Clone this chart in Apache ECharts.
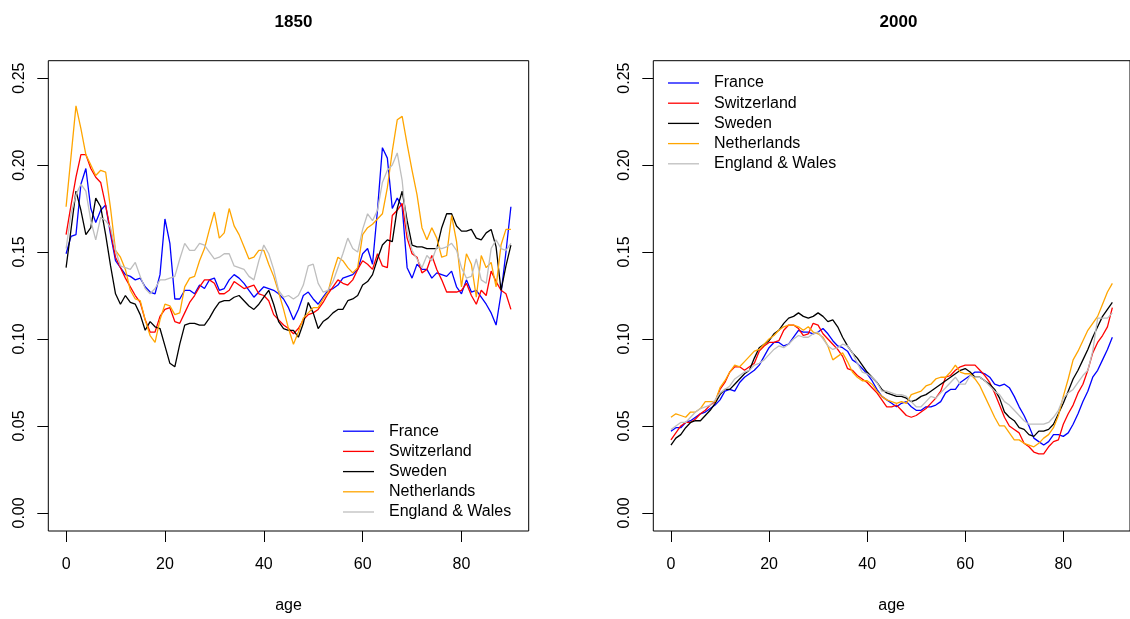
<!DOCTYPE html>
<html>
<head>
<meta charset="utf-8">
<script src="https://cdn.jsdelivr.net/npm/echarts@6/dist/echarts.min.js"></script>
<style>html,body{margin:0;padding:0;background:#fff}#c{width:1130px;height:619px}</style>
</head>
<body>
<div id="c"></div>
<script>
var countries = ['France', 'Switzerland', 'Sweden', 'Netherlands', 'England & Wales'];
var colors = ['#0000FF', '#FF0000', '#000000', '#FFA500', '#BEBEBE'];
var panelTitles = ['1850', '2000'];
var xTicks = [0, 20, 40, 60, 80];
var yTicks = [0, 0.05, 0.10, 0.15, 0.20, 0.25];
var ages = [];
for (var a = 0; a <= 90; a++) ages.push(a);

var france1850 = [0.149,0.159,0.160,0.189,0.198,0.175,0.167,0.174,0.177,0.160,0.145,0.141,0.137,0.136,0.134,0.135,0.130,0.127,0.126,0.137,0.169,0.155,0.123,0.123,0.128,0.128,0.126,0.131,0.129,0.134,0.135,0.128,0.129,0.134,0.137,0.135,0.132,0.128,0.124,0.127,0.130,0.129,0.128,0.126,0.123,0.118,0.111,0.117,0.125,0.127,0.123,0.120,0.124,0.128,0.129,0.131,0.135,0.136,0.137,0.140,0.149,0.152,0.143,0.174,0.210,0.204,0.175,0.181,0.176,0.141,0.135,0.143,0.140,0.140,0.135,0.138,0.137,0.136,0.139,0.130,0.126,0.134,0.127,0.128,0.124,0.120,0.115,0.108,0.126,0.150,0.176];
var switzerland1850 = [0.160,0.177,0.193,0.206,0.206,0.198,0.193,0.190,0.177,0.162,0.147,0.141,0.135,0.130,0.125,0.121,0.111,0.104,0.104,0.113,0.117,0.118,0.110,0.109,0.115,0.121,0.125,0.130,0.134,0.134,0.132,0.126,0.126,0.128,0.133,0.131,0.129,0.130,0.131,0.126,0.125,0.122,0.114,0.111,0.108,0.106,0.103,0.106,0.111,0.114,0.115,0.117,0.121,0.126,0.130,0.134,0.132,0.131,0.134,0.140,0.145,0.143,0.140,0.149,0.142,0.141,0.171,0.174,0.178,0.158,0.149,0.147,0.138,0.140,0.148,0.140,0.134,0.127,0.127,0.127,0.128,0.132,0.125,0.120,0.128,0.125,0.139,0.133,0.128,0.126,0.117];
var sweden1850 = [0.141,0.163,0.185,0.174,0.160,0.164,0.181,0.176,0.160,0.142,0.126,0.120,0.125,0.121,0.120,0.114,0.105,0.110,0.107,0.106,0.096,0.086,0.084,0.097,0.108,0.109,0.109,0.108,0.108,0.112,0.117,0.121,0.122,0.122,0.124,0.125,0.122,0.119,0.117,0.120,0.124,0.128,0.120,0.110,0.106,0.105,0.105,0.101,0.109,0.121,0.115,0.106,0.110,0.112,0.115,0.117,0.117,0.122,0.123,0.125,0.131,0.133,0.137,0.146,0.154,0.157,0.156,0.175,0.185,0.168,0.154,0.153,0.153,0.152,0.152,0.152,0.164,0.172,0.172,0.165,0.162,0.162,0.163,0.158,0.157,0.161,0.163,0.153,0.128,0.142,0.154];
var netherlands1850 = [0.176,0.205,0.234,0.221,0.206,0.200,0.194,0.197,0.196,0.175,0.151,0.147,0.140,0.128,0.123,0.122,0.111,0.102,0.098,0.111,0.120,0.119,0.114,0.115,0.130,0.135,0.136,0.145,0.152,0.163,0.173,0.158,0.161,0.175,0.165,0.160,0.153,0.146,0.147,0.151,0.151,0.143,0.136,0.127,0.117,0.106,0.097,0.104,0.112,0.115,0.118,0.118,0.123,0.127,0.138,0.147,0.145,0.141,0.138,0.141,0.160,0.164,0.166,0.169,0.172,0.187,0.208,0.226,0.228,0.212,0.197,0.183,0.164,0.157,0.164,0.158,0.147,0.148,0.171,0.156,0.130,0.149,0.143,0.124,0.148,0.141,0.144,0.130,0.154,0.163,0.163];
var england1850 = [0.152,0.172,0.183,0.189,0.185,0.168,0.157,0.170,0.168,0.164,0.151,0.142,0.141,0.140,0.144,0.136,0.129,0.126,0.129,0.134,0.134,0.135,0.136,0.146,0.155,0.151,0.151,0.155,0.154,0.150,0.146,0.147,0.149,0.149,0.142,0.141,0.140,0.136,0.134,0.145,0.154,0.149,0.140,0.128,0.124,0.125,0.123,0.125,0.131,0.142,0.143,0.132,0.127,0.128,0.133,0.141,0.149,0.158,0.152,0.150,0.163,0.172,0.168,0.174,0.190,0.197,0.200,0.207,0.191,0.162,0.151,0.146,0.141,0.148,0.145,0.153,0.152,0.153,0.155,0.151,0.141,0.135,0.136,0.146,0.134,0.132,0.152,0.157,0.152,0.151,0.155];

var france2000 = [0.047,0.049,0.049,0.052,0.053,0.055,0.057,0.058,0.060,0.062,0.065,0.070,0.071,0.070,0.075,0.078,0.080,0.082,0.085,0.090,0.095,0.098,0.098,0.096,0.097,0.101,0.105,0.104,0.104,0.103,0.104,0.106,0.103,0.099,0.096,0.095,0.093,0.088,0.086,0.083,0.080,0.076,0.071,0.067,0.065,0.063,0.061,0.063,0.064,0.061,0.059,0.059,0.061,0.061,0.062,0.064,0.069,0.071,0.071,0.075,0.077,0.079,0.081,0.081,0.080,0.078,0.074,0.073,0.074,0.072,0.067,0.061,0.056,0.050,0.043,0.041,0.039,0.041,0.045,0.045,0.044,0.046,0.051,0.057,0.064,0.070,0.078,0.082,0.088,0.094,0.101];
var switzerland2000 = [0.042,0.046,0.050,0.052,0.052,0.054,0.057,0.059,0.062,0.064,0.071,0.075,0.081,0.084,0.084,0.082,0.084,0.086,0.093,0.096,0.098,0.098,0.099,0.105,0.108,0.108,0.106,0.102,0.103,0.109,0.108,0.103,0.100,0.097,0.094,0.090,0.083,0.082,0.079,0.077,0.075,0.072,0.069,0.065,0.061,0.061,0.062,0.059,0.056,0.055,0.056,0.058,0.060,0.063,0.066,0.070,0.078,0.079,0.082,0.084,0.085,0.085,0.085,0.082,0.079,0.075,0.069,0.062,0.055,0.050,0.048,0.046,0.040,0.038,0.035,0.034,0.034,0.038,0.041,0.042,0.051,0.057,0.062,0.069,0.074,0.082,0.092,0.098,0.102,0.107,0.118];
var sweden2000 = [0.039,0.043,0.045,0.049,0.052,0.053,0.053,0.056,0.059,0.063,0.068,0.071,0.071,0.074,0.077,0.080,0.082,0.089,0.095,0.097,0.099,0.103,0.105,0.109,0.112,0.113,0.115,0.113,0.112,0.113,0.115,0.113,0.110,0.111,0.107,0.101,0.096,0.092,0.089,0.085,0.081,0.078,0.075,0.071,0.069,0.068,0.067,0.067,0.066,0.064,0.065,0.067,0.068,0.070,0.072,0.074,0.076,0.078,0.080,0.082,0.083,0.081,0.078,0.078,0.076,0.074,0.071,0.066,0.058,0.055,0.053,0.049,0.048,0.045,0.044,0.047,0.047,0.048,0.051,0.057,0.063,0.070,0.077,0.082,0.088,0.094,0.101,0.107,0.113,0.117,0.121];
var netherlands2000 = [0.055,0.057,0.056,0.055,0.058,0.058,0.060,0.064,0.064,0.064,0.072,0.076,0.081,0.085,0.084,0.087,0.090,0.093,0.094,0.097,0.100,0.102,0.105,0.107,0.108,0.108,0.107,0.105,0.107,0.104,0.103,0.101,0.096,0.088,0.090,0.092,0.087,0.081,0.078,0.076,0.076,0.074,0.070,0.067,0.065,0.064,0.063,0.064,0.063,0.068,0.069,0.070,0.073,0.074,0.077,0.078,0.078,0.081,0.085,0.081,0.080,0.080,0.077,0.073,0.067,0.061,0.055,0.050,0.050,0.046,0.042,0.042,0.040,0.039,0.038,0.040,0.043,0.045,0.049,0.056,0.067,0.077,0.088,0.093,0.099,0.105,0.109,0.113,0.120,0.127,0.132];
var england2000 = [0.048,0.050,0.052,0.052,0.055,0.058,0.060,0.061,0.062,0.065,0.069,0.071,0.073,0.077,0.079,0.081,0.082,0.085,0.086,0.088,0.091,0.094,0.096,0.095,0.097,0.100,0.102,0.101,0.101,0.103,0.104,0.100,0.096,0.094,0.095,0.097,0.096,0.092,0.086,0.081,0.080,0.078,0.075,0.070,0.070,0.069,0.068,0.068,0.067,0.064,0.061,0.061,0.064,0.067,0.066,0.069,0.072,0.075,0.078,0.074,0.074,0.079,0.078,0.078,0.076,0.073,0.070,0.068,0.064,0.062,0.059,0.056,0.053,0.051,0.051,0.051,0.051,0.052,0.055,0.059,0.066,0.069,0.071,0.075,0.079,0.082,0.093,0.112,0.112,0.112,0.115];

var panels = [
  [france1850, switzerland1850, sweden1850, netherlands1850, england1850],
  [france2000, switzerland2000, sweden2000, netherlands2000, england2000]
];

var FONT = '"Liberation Sans", Arial, Helvetica, sans-serif';
var gridLefts = [48.3, 653.3];

function pairs(vals) {
  return ages.map(function (a, i) { return [a, vals[i]]; });
}

var option = {
  animation: false,
  backgroundColor: '#ffffff',
  textStyle: { fontFamily: FONT },
  title: panelTitles.map(function (t, i) {
    return {
      text: t, left: gridLefts[i] + 240.2, top: 9, textAlign: 'center',
      textStyle: { fontFamily: FONT, fontSize: 17, fontWeight: 'bold', color: '#000' }
    };
  }),
  grid: gridLefts.map(function (l) {
    return { left: l, top: 60.7, width: 480.4, height: 473.6, show: true,
      borderColor: '#000', borderWidth: 1, backgroundColor: 'transparent', containLabel: false };
  }),
  legend: [
    { left: 343, top: 423.2 },
    { left: 668, top: 75 }
  ].map(function (lg) {
    lg.orient = 'vertical';
    lg.data = countries;
    lg.padding = 0; lg.itemWidth = 31; lg.itemHeight = 1.3; lg.itemGap = 4.2;
    lg.icon = 'rect';
    lg.selectedMode = false;
    lg.textStyle = { fontFamily: FONT, fontSize: 16, color: '#000', padding: [0, 0, 0, 10] };
    return lg;
  }),
  xAxis: [0, 1].map(function (g) {
    return {
      type: 'value', gridIndex: g, min: -3.6, max: 93.6,
      name: 'age', nameLocation: 'middle', nameGap: 67,
      nameTextStyle: { fontFamily: FONT, fontSize: 16, color: '#000' },
      axisLine: { show: false, onZero: false },
      axisTick: { show: true, inside: false, length: 11, customValues: xTicks, lineStyle: { color: '#000', width: 1 } },
      axisLabel: { customValues: xTicks, margin: 26, fontFamily: FONT, fontSize: 16, color: '#000' },
      splitLine: { show: false }
    };
  }),
  yAxis: [0, 1].map(function (g) {
    return {
      type: 'value', gridIndex: g, min: -0.0104, max: 0.26,
      axisLine: { show: false, onZero: false },
      axisTick: { show: true, inside: false, length: 11, customValues: yTicks, lineStyle: { color: '#000', width: 1 } },
      axisLabel: { customValues: yTicks, rotate: 90, margin: 21, fontFamily: FONT, fontSize: 16, color: '#000',
        formatter: function (v) { return v.toFixed(2); } },
      splitLine: { show: false }
    };
  }),
  series: []
};

panels.forEach(function (set, g) {
  set.forEach(function (vals, k) {
    option.series.push({
      type: 'line', name: countries[k], xAxisIndex: g, yAxisIndex: g,
      data: pairs(vals), symbol: 'none', showSymbol: false, smooth: false,
      lineStyle: { color: colors[k], width: 1.3 }, itemStyle: { color: colors[k] },
      clip: true, silent: true
    });
  });
});

var chart = echarts.init(document.getElementById('c'), null, { renderer: 'canvas' });
chart.setOption(option);
</script>
</body>
</html>
